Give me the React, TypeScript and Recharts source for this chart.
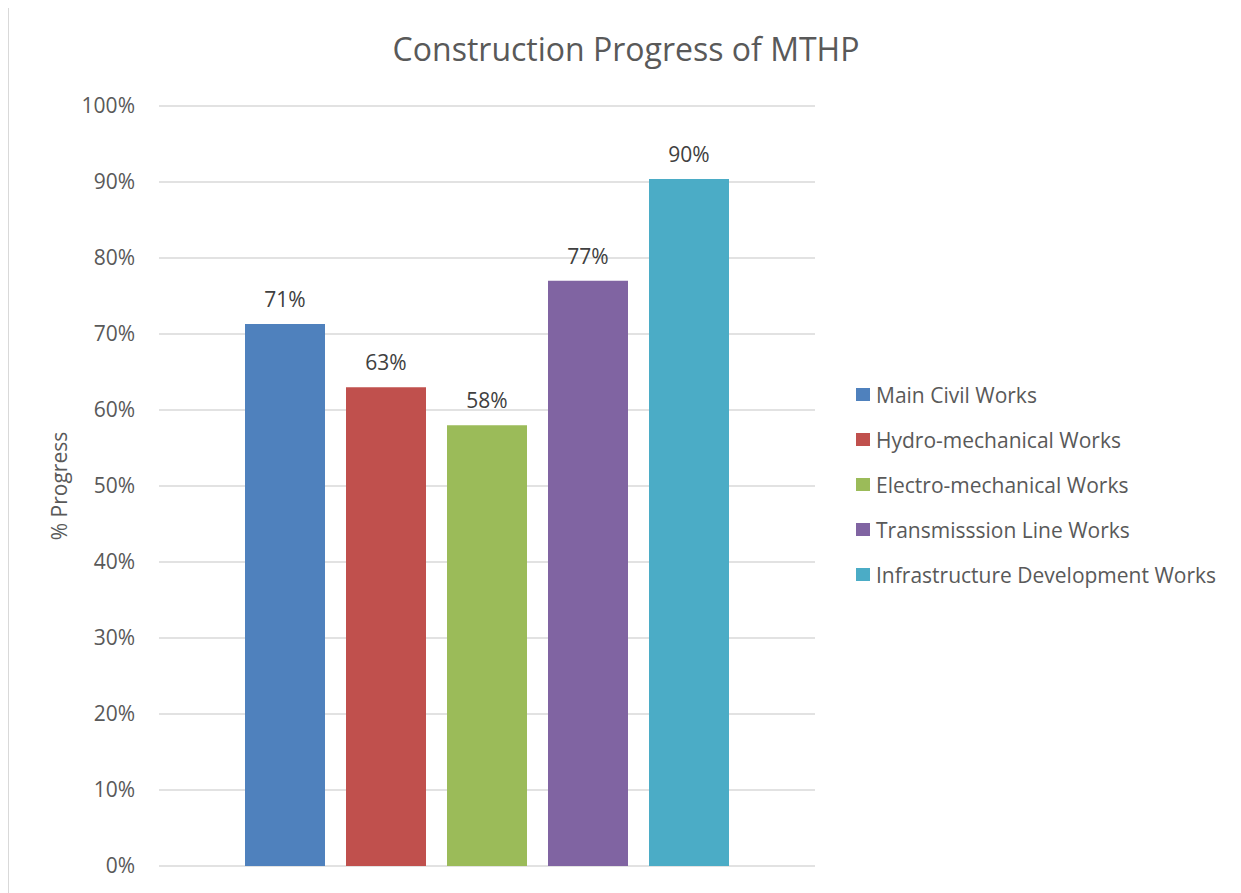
import { BarChart, Bar, XAxis, YAxis, CartesianGrid, LabelList } from "recharts";

const chartTitle = "Construction Progress of MTHP";
const yAxisTitle = "% Progress";
const categories = ["MTHP"];
const seriesNames = [
  "Main Civil Works",
  "Hydro-mechanical Works",
  "Electro-mechanical Works",
  "Transmisssion Line Works",
  "Infrastructure Development Works",
];
const seriesColors = ["#4F81BD", "#C0504D", "#9BBB59", "#8064A2", "#4BACC6"];
const progressValues = [0.713, 0.63, 0.58, 0.77, 0.904];
const yTicks = [0, 0.1, 0.2, 0.3, 0.4, 0.5, 0.6, 0.7, 0.8, 0.9, 1];

const FONT = "'Open Sans', sans-serif";

const chartData = categories.map((c) => {
  const row: Record<string, string | number> = { category: c };
  seriesNames.forEach((_, i) => {
    row[`s${i}`] = progressValues[i];
  });
  return row;
});

const pct = (v: number) => `${Math.round(v * 100)}%`;

export default function App() {
  return (
    <div
      style={{
        position: "relative",
        width: 1240,
        height: 890,
        marginTop: -1,
        border: "1px solid #d9d9d9",
        background: "#fff",
        fontFamily: FONT,
      }}
    >
      <div
        style={{
          position: "absolute",
          left: 0,
          width: 1234,
          top: 19,
          textAlign: "center",
          fontSize: 32,
          color: "#595959",
        }}
      >
        {chartTitle}
      </div>

      <BarChart
        width={1240}
        height={890}
        data={chartData}
        margin={{ top: 98, right: 434, bottom: 32, left: 0 }}
        barSize={80}
        barGap={21}
      >
        <CartesianGrid vertical={false} stroke="#d9d9d9" strokeWidth={1.5} />
        <XAxis dataKey="category" hide />
        <YAxis
          width={150}
          domain={[0, 1]}
          ticks={yTicks}
          tickFormatter={pct}
          axisLine={false}
          tickLine={false}
          tickSize={6}
          tickMargin={18}
          tick={{ fill: "#595959", fontSize: 21, fontFamily: FONT }}
          label={{
            value: yAxisTitle,
            angle: -90,
            position: "insideLeft",
            offset: 51,
            fill: "#595959",
            fontSize: 21,
            fontFamily: FONT,
            style: { textAnchor: "middle" },
          }}
        />
        {seriesNames.map((name, i) => (
          <Bar
            key={name}
            name={name}
            dataKey={`s${i}`}
            fill={seriesColors[i]}
            isAnimationActive={false}
          >
            <LabelList
              dataKey={`s${i}`}
              position="top"
              offset={17}
              formatter={(v: number) => pct(v)}
              fill="#404040"
              fontSize={21}
              fontFamily={FONT}
            />
          </Bar>
        ))}
      </BarChart>

      <div style={{ position: "absolute", left: 847, top: 364 }}>
        {seriesNames.map((name, i) => (
          <div
            key={name}
            style={{
              display: "flex",
              alignItems: "center",
              height: 45,
              fontSize: 21,
              color: "#595959",
              whiteSpace: "nowrap",
            }}
          >
            <span
              style={{
                display: "inline-block",
                width: 14,
                height: 13,
                background: seriesColors[i],
                marginRight: 6,
              }}
            />
            {name}
          </div>
        ))}
      </div>
    </div>
  );
}
